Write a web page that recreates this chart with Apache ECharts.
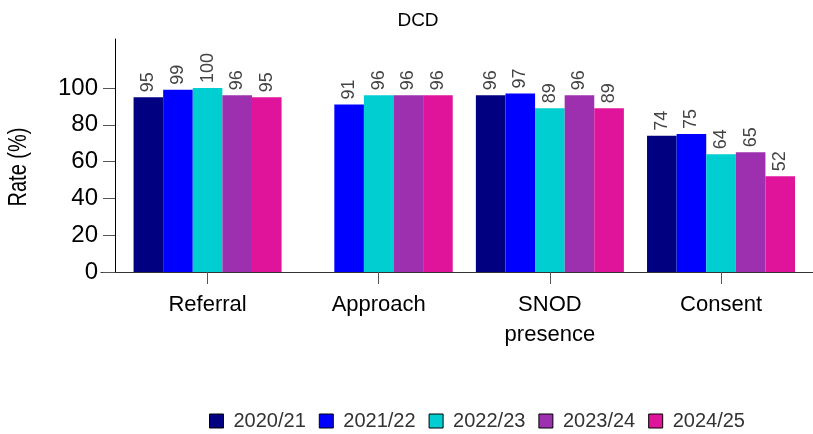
<!DOCTYPE html>
<html>
<head>
<meta charset="utf-8">
<script src="https://cdn.jsdelivr.net/npm/echarts@6/dist/echarts.min.js"></script>
<style>html,body{margin:0;padding:0;background:#fff}#c{width:813px;height:434px}</style>
</head>
<body>
<div id="c"></div>
<script>
const categories = ['Referral', 'Approach', 'SNOD\npresence', 'Consent'];
const years = ['2020/21', '2021/22', '2022/23', '2023/24', '2024/25'];
const v2020 = [95, null, 96, 74];
const v2021 = [99, 91, 97, 75];
const v2022 = [100, 96, 89, 64];
const v2023 = [96, 96, 96, 65];
const v2024 = [95, 96, 89, 52];
const yTicks = [0, 20, 40, 60, 80, 100];
const colors = ['#000080', '#0000FF', '#00CED1', '#9C30AE', '#E0139B'];
const seriesValues = [v2020, v2021, v2022, v2023, v2024];

const FONT = 'Liberation Sans, Arial, sans-serif';
const chart = echarts.init(document.getElementById('c'));
chart.setOption({
  animation: false,
  title: {
    text: 'DCD', left: 413, top: 6, textAlign: 'center',
    textStyle: { fontFamily: FONT, fontSize: 19, fontWeight: 'normal', color: '#000' }
  },
  graphic: [{
    type: 'text', x: 19, y: 167, rotation: Math.PI / 2, scaleY: 1.25,
    style: { text: 'Rate (%)', fontFamily: FONT, fontSize: 20, fill: '#000', align: 'center', verticalAlign: 'middle' }
  }],
  legend: {
    data: years, left: 204, top: 406, itemWidth: 14, itemHeight: 14, itemGap: 13,
    icon: 'rect',
    itemStyle: { borderColor: '#000', borderWidth: 1 },
    textStyle: { fontFamily: FONT, fontSize: 20, color: '#333', padding: [0, 0, 0, 5] }
  },
  grid: [
    { left: 122, right: 6.4, top: 39, bottom: 162 },
    { left: 101, right: 0, top: 39, bottom: 162 }
  ],
  xAxis: [{
    type: 'category', data: categories, gridIndex: 0,
    axisLine: { show: false },
    axisTick: { show: true, alignWithLabel: true, length: 12, lineStyle: { color: '#555' } },
    axisLabel: { fontFamily: FONT, fontSize: 22, color: '#000', margin: 18, lineHeight: 30 }
  }, {
    type: 'value', gridIndex: 1, min: 0, max: 1,
    axisLine: { show: true, lineStyle: { color: '#333', width: 1 } },
    axisTick: { show: false }, axisLabel: { show: false }, splitLine: { show: false }
  }],
  yAxis: [{
    type: 'value', gridIndex: 0, min: 0, max: 126.6, offset: 7,
    axisLine: { show: true, lineStyle: { color: '#000' } },
    axisTick: { show: true, length: 12, customValues: yTicks, lineStyle: { color: '#555' } },
    axisLabel: { fontFamily: FONT, fontSize: 24, color: '#000', margin: 17, customValues: yTicks },
    splitLine: { show: false }
  }, {
    type: 'value', gridIndex: 1, show: false
  }],
  series: years.map((y, i) => ({
    name: y, type: 'bar', xAxisIndex: 0, yAxisIndex: 0,
    data: seriesValues[i], barWidth: 29.6, barGap: '0%',
    itemStyle: { color: colors[i] },
    label: {
      show: true, position: 'top', rotate: 90, align: 'left', verticalAlign: 'middle',
      distance: 5, fontFamily: FONT, fontSize: 18, color: '#444'
    }
  }))
});
</script>
</body>
</html>
